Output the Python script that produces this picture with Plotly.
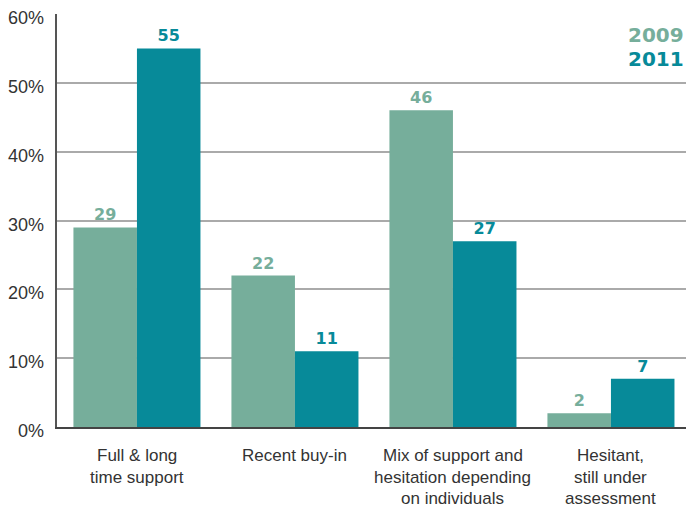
import plotly.graph_objects as go

# Survey responses by attitude category (% of respondents)
categories = [
    ["Full & long", "time support"],
    ["Recent buy-in"],
    ["Mix of support and", "hesitation depending", "on individuals"],
    ["Hesitant,", "still under", "assessment"],
]
years = ["2009", "2011"]
values_2009 = [29, 22, 46, 2]
values_2011 = [55, 11, 27, 7]
y_ticks = [0, 10, 20, 30, 40, 50, 60]

colors = {"2009": "#76AE9B", "2011": "#078A99"}
series = {"2009": values_2009, "2011": values_2011}
label_font = "Liberation Sans, Arial, sans-serif"

fig = go.Figure()
for yr in years:
    fig.add_trace(go.Bar(
        x=list(range(len(categories))),
        y=series[yr],
        name=yr,
        marker=dict(color=colors[yr], line=dict(width=0)),
        text=[str(v) for v in series[yr]],
        textposition="outside",
        cliponaxis=False,
        textfont=dict(family="DejaVu Sans", size=16, color=colors[yr], weight="bold"),
        showlegend=False,
    ))

# Year key in the top-right corner
for i, yr in enumerate(years):
    fig.add_annotation(
        x=1, xref="paper", xanchor="right",
        y=0.95 - i * 0.058, yref="paper", yanchor="middle",
        text=f"<b>{yr}</b>", showarrow=False,
        font=dict(family="DejaVu Sans", size=20, color=colors[yr]),
    )

# Category labels, one line at a time for tight line spacing
for ci, lines in enumerate(categories):
    for li, line in enumerate(lines):
        fig.add_annotation(
            x=ci, xref="x", y=0, yref="paper",
            xanchor="center", yanchor="top",
            yshift=-17 - li * 21.5,
            text=line, showarrow=False,
            font=dict(family=label_font, size=17, color="#333333"),
        )

# Percentage labels on the value axis
for t in y_ticks:
    fig.add_annotation(
        x=0, xref="paper", xanchor="right", xshift=-11,
        y=t, yref="y", yanchor="middle", yshift=-4,
        text=f"{t}%", showarrow=False,
        font=dict(family="Liberation Sans", size=18, color="#333333"),
    )

fig.update_layout(
    width=686, height=511,
    margin=dict(l=57, r=0, t=14, b=84),
    paper_bgcolor="white", plot_bgcolor="white",
    barmode="group", bargap=0.196, bargroupgap=0,
    xaxis=dict(
        range=[-0.506, 3.475],
        showticklabels=False,
        showgrid=False, ticks="",
        showline=True, linecolor="#444444", linewidth=2,
        zeroline=False,
    ),
    yaxis=dict(
        range=[0, 60],
        tickmode="array",
        tickvals=y_ticks,
        showticklabels=False,
        showgrid=True, gridcolor="#AAAAAA", gridwidth=1.5,
        showline=True, linecolor="#555555", linewidth=2,
        zeroline=False, ticks="",
    ),
)

fig.write_html("out.html")
